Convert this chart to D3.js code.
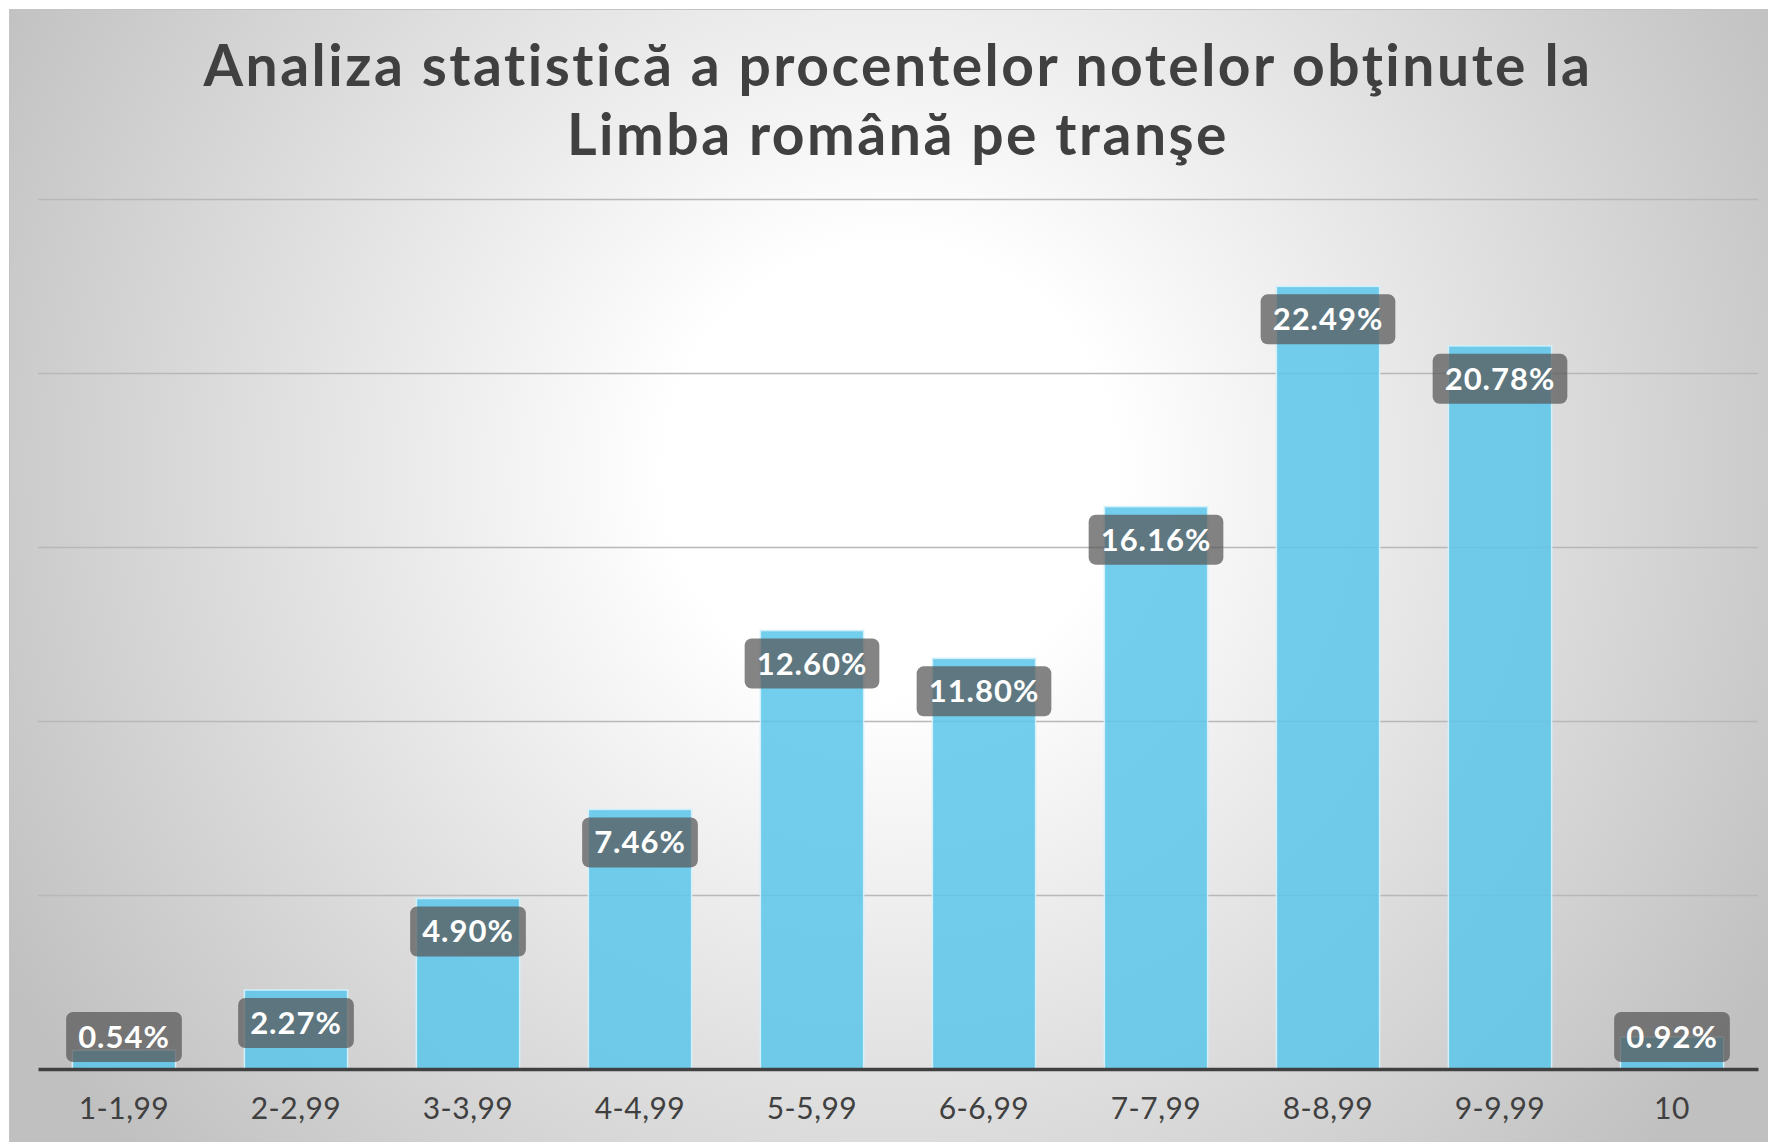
<!DOCTYPE html>
<html>
<head>
<meta charset="utf-8">
<script src="https://cdn.jsdelivr.net/npm/d3@7/dist/d3.min.js"></script>
<style>
  body { margin: 0; background: #fff; }
  svg { display: block; }
  .title { font-family: Lato, "Open Sans", sans-serif; font-weight: bold; fill: #404040; letter-spacing: 2.5px; }
  .xaxis text { font-family: Lato, "Open Sans", sans-serif; font-size: 30px; fill: #404040; letter-spacing: 0.5px; }
  .lbl text { font-family: Lato, "Open Sans", sans-serif; font-weight: bold; font-size: 31px; fill: #fff; letter-spacing: 1px; }
</style>
</head>
<body>
<div id="chart"></div>
<script>
// chart data
var titleLines = ["Analiza statistică a procentelor notelor obţinute la", "Limba română pe tranşe"];
var categories = ["1-1,99", "2-2,99", "3-3,99", "4-4,99", "5-5,99", "6-6,99", "7-7,99", "8-8,99", "9-9,99", "10"];
var values = [0.54, 2.27, 4.90, 7.46, 12.60, 11.80, 16.16, 22.49, 20.78, 0.92];
var gridTicks = [5, 10, 15, 20, 25];

(function () {
    var W = 1768, H = 1142;
    var left = 38, right = 1758, top = 199, base = 1069;

    var svg = d3.select("#chart").append("svg")
        .attr("width", W)
        .attr("height", H);

    // background, radial grey gradient
    var defs = svg.append("defs");
    var grad = defs.append("radialGradient")
        .attr("id", "bg")
        .attr("gradientUnits", "userSpaceOnUse")
        .attr("cx", 890).attr("cy", 470).attr("r", 1020);
    grad.append("stop").attr("offset", "0").attr("stop-color", "#ffffff");
    grad.append("stop").attr("offset", "0.22").attr("stop-color", "#ffffff");
    grad.append("stop").attr("offset", "1").attr("stop-color", "#c0c0c0");

    svg.append("rect")
        .attr("x", 9.5).attr("y", 9.5)
        .attr("width", W).attr("height", H)
        .attr("fill", "url(#bg)")
        .attr("stroke", "#c4c4c4")
        .attr("stroke-width", 1);

    // title, one text per line
    svg.append("g").selectAll("text")
        .data(titleLines).enter().append("text")
        .attr("class", "title")
        .attr("text-anchor", "middle")
        .attr("x", 898)
        .attr("y", function (d, i) { return 86 + i * 68.5; })
        .style("font-size", "57px")
        .text(function (d) { return d; });

    var x = d3.scaleBand()
        .domain(categories)
        .range([left, right])
        .paddingInner(0.4)
        .paddingOuter(0.2);

    var y = d3.scaleLinear()
        .domain([0, 25])
        .range([base, top]);

    // gridlines
    var grid = svg.append("g")
        .attr("transform", "translate(" + left + ",0)")
        .call(d3.axisLeft(y).tickValues(gridTicks).tickSize(-(right - left)).tickFormat(""));
    grid.select(".domain").remove();
    grid.selectAll("line").attr("stroke", "#b8b8b8").attr("stroke-width", 1.5);

    // bars
    svg.append("g").selectAll("rect")
        .data(values).enter().append("rect")
        .attr("x", function (d, i) { return x(categories[i]); })
        .attr("y", function (d) { return y(d); })
        .attr("width", x.bandwidth())
        .attr("height", function (d) { return base - y(d); })
        .attr("fill", "rgb(92,198,235)")
        .attr("fill-opacity", 0.86)
        .attr("stroke", "#d2f0fb")
        .attr("stroke-width", 1.5);

    // x axis
    var xa = svg.append("g")
        .attr("class", "xaxis")
        .attr("transform", "translate(0," + base + ")")
        .call(d3.axisBottom(x).tickSize(0).tickSizeOuter(0).tickPadding(29));
    xa.select(".domain").attr("stroke", "#404040").attr("stroke-width", 3.5);

    // data labels
    var lbl = svg.append("g").attr("class", "lbl").selectAll("g")
        .data(values).enter().append("g");

    lbl.each(function (d, i) {
        var g = d3.select(this);
        var cx = x(categories[i]) + x.bandwidth() / 2;
        var boxTop = Math.min(y(d) + 8, base - 57);
        var box = g.append("rect");
        var t = g.append("text")
            .attr("x", cx)
            .attr("y", boxTop + 36)
            .attr("text-anchor", "middle")
            .text(d.toFixed(2) + "%");
        var w = t.node().getComputedTextLength() + 24;
        box.attr("x", cx - w / 2)
            .attr("y", boxTop)
            .attr("width", w)
            .attr("height", 50)
            .attr("rx", 7)
            .attr("fill", "rgb(86,86,86)")
            .attr("fill-opacity", 0.73);
    });
})();
</script>
</body>
</html>
